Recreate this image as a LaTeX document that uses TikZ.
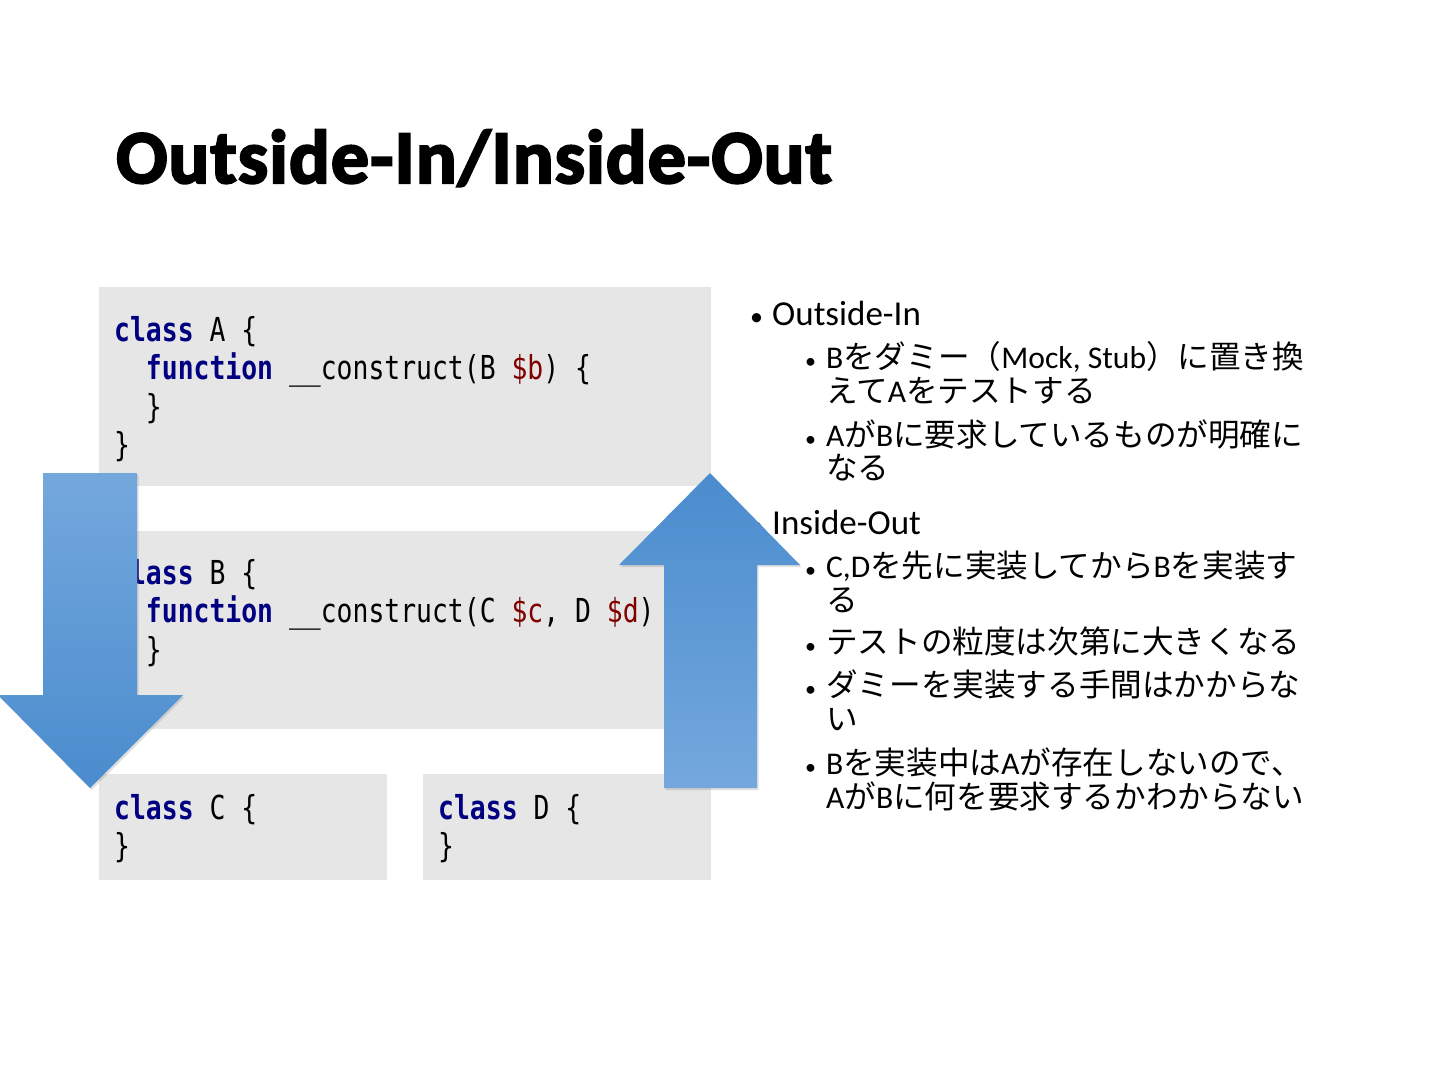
\documentclass[tikz,border=0pt]{standalone}
\usepackage{fontspec}
\setmainfont{Carlito}
\newfontfamily\jpfont{Noto Sans CJK JP}
\newfontfamily\codefont[FakeStretch=0.8]{DejaVu Sans Mono}
\newfontfamily\titlefont[FakeBold=3, LetterSpace=1.4]{Carlito Bold}
\usetikzlibrary{positioning,shadows}
\definecolor{codebg}{HTML}{E6E6E6}
\definecolor{kwblue}{HTML}{000080}
\definecolor{varred}{HTML}{800000}
\definecolor{arrowdark}{HTML}{4A8CCE}
\definecolor{arrowlight}{HTML}{74A8DD}
\newcommand{\kw}[1]{\textbf{\color{kwblue}#1}}
\newcommand{\phpvar}[1]{{\color{varred}#1}}
\newcommand{\ja}[1]{{\jpfont #1}}
\newcommand{\ind}{\phantom{xx}}
\newcommand{\bulone}{\makebox[22pt][l]{\fontsize{26}{26}\selectfont•}}
\newcommand{\bultwo}{\makebox[21pt][l]{\fontsize{22}{22}\selectfont•}}

\begin{document}
\begin{tikzpicture}[x=1pt, y=-1pt,
    codebox/.style={fill=codebg},
    codeline/.style={anchor=base west, inner sep=0pt, font=\codefont\fontsize{33}{38}\selectfont},
    lvone/.style={anchor=base west, inner sep=0pt, font=\fontsize{35}{35}\selectfont},
    lvtwo/.style={anchor=base west, inner sep=0pt, font=\fontsize{31.6}{31.6}\selectfont},
    bigarrow/.style={top color=#1, draw=none, drop shadow={opacity=0.25, shadow xshift=1.5pt, shadow yshift=-2pt}}]
    % Canvas
    \fill[white] (0,0) rectangle (1440,1080);
    \useasboundingbox (0,0) rectangle (1440,1080);

    % Title
    \node[anchor=base west, inner sep=0pt, font=\titlefont\fontsize{76}{80}\selectfont] (title) at (116,183) {Outside-In/Inside-Out};

    % Code boxes
    \fill[codebox] (99,287) rectangle (711,486);
    \fill[codebox] (99,531) rectangle (711,729);
    \fill[codebox] (99,774) rectangle (387,880);
    \fill[codebox] (423,774) rectangle (711,880);

    % class A
    \node[codeline] (a1) at (114,341) {\kw{class} A \{};
    \node[codeline] (a2) at (114,379.5) {\ind\kw{function} \_\_construct(B \phpvar{\$b}) \{};
    \node[codeline] (a3) at (114,418) {\ind\}};
    \node[codeline] (a4) at (114,456.5) {\}};

    % class B
    \node[codeline] (b1) at (114,584) {\kw{class} B \{};
    \node[codeline] (b2) at (114,622.5) {\ind\kw{function} \_\_construct(C \phpvar{\$c}, D \phpvar{\$d}) \{};
    \node[codeline] (b3) at (114,661) {\ind\}};
    \node[codeline] (b4) at (114,699.5) {\}};

    % class C, class D
    \node[codeline] (c1) at (114,819) {\kw{class} C \{};
    \node[codeline] (c2) at (114,857.5) {\}};
    \node[codeline] (d1) at (438,819) {\kw{class} D \{};
    \node[codeline] (d2) at (438,857.5) {\}};

    % Bullets: Outside-In
    \node[lvone] (outin) at (750,325) {\bulone Outside-In};
    \node[lvtwo] (oi1) at (805,368) {\bultwo B\ja{をダミー（}Mock, Stub\ja{）に置き換}};
    \node[lvtwo] (oi1b) at (826,402) {\ja{えて}A\ja{をテストする}};
    \node[lvtwo] (oi2) at (805,446) {\bultwo A\ja{が}B\ja{に要求しているものが明確に}};
    \node[lvtwo] (oi2b) at (826,479) {\ja{なる}};

    % Bullets: Inside-Out
    \node[lvone] (inout) at (750,534) {\bulone Inside-Out};
    \node[lvtwo] (io1) at (805,577) {\bultwo C,D\ja{を先に実装してから}B\ja{を実装す}};
    \node[lvtwo] (io1b) at (826,611) {\ja{る}};
    \node[lvtwo] (io2) at (805,653) {\bultwo\ja{テストの粒度は次第に大きくなる}};
    \node[lvtwo] (io3) at (805,696) {\bultwo\ja{ダミーを実装する手間はかからな}};
    \node[lvtwo] (io3b) at (826,730) {\ja{い}};
    \node[lvtwo] (io4) at (805,774) {\bultwo B\ja{を実装中は}A\ja{が存在しないので、}};
    \node[lvtwo] (io4b) at (826,808) {A\ja{が}B\ja{に何を要求するかわからない}};

    % Outside-In arrow (down)
    \shade[bigarrow=arrowlight, bottom color=arrowdark]
        (43,473) -- (137,473) -- (137,695) -- (183,695) -- (90,788) -- (-2,695) -- (43,695) -- cycle;

    % Inside-Out arrow (up)
    \shade[bigarrow=arrowdark, bottom color=arrowlight]
        (664,788) -- (757,788) -- (757,565) -- (800,565) -- (710,473) -- (619,565) -- (664,565) -- cycle;
\end{tikzpicture}
\end{document}
